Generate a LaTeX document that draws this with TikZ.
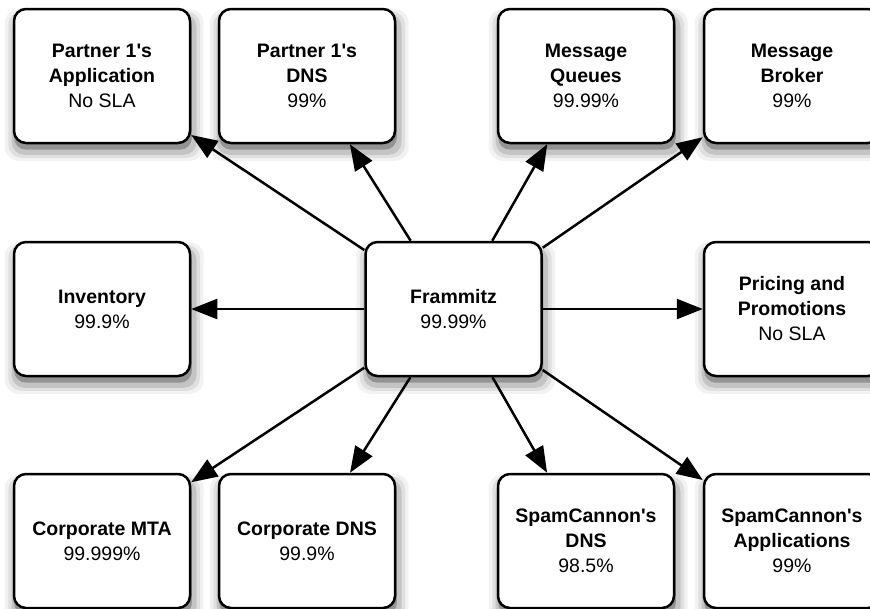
\documentclass[tikz,border=0pt]{standalone}
\usepackage{fontspec}
\setmainfont{Liberation Sans}[Ligatures=TeXOff]
\usetikzlibrary{arrows.meta,shadows}
\begin{document}
\begin{tikzpicture}[x=1pt,y=-1pt,
  softshadow/.style={
    general shadow={fill=black, opacity=0.05, shadow xshift=2pt, shadow yshift=-8pt, shadow scale=1.13},
    general shadow={fill=black, opacity=0.08, shadow xshift=2pt, shadow yshift=-8pt, shadow scale=1.09},
    general shadow={fill=black, opacity=0.12, shadow xshift=2pt, shadow yshift=-8pt, shadow scale=1.05},
    general shadow={fill=black, opacity=0.25, shadow xshift=1pt, shadow yshift=-6pt, shadow scale=1.01}},
  box/.style={softshadow, draw=black, line width=2.5pt, fill=white, rounded corners=12pt,
    minimum width=176pt, minimum height=134pt, inner sep=0pt, align=center,
    font=\fontsize{19.5}{25}\selectfont},
  link/.style={line width=2.5pt, -{Triangle[length=26pt,width=20pt]}}]
\useasboundingbox (0,0) rectangle (870,608);
\clip (0,0) rectangle (870,608);
\node[box] (fr) at (453.5,309) {\textbf{Frammitz}\\99.99\%};
\node[box] (pa) at (102,76) {\textbf{Partner 1's}\\\textbf{Application}\\No SLA};
\node[box] (pd) at (307,76) {\textbf{Partner 1's}\\\textbf{DNS}\\99\%};
\node[box] (mq) at (586,76) {\textbf{Message}\\\textbf{Queues}\\99.99\%};
\node[box] (mb) at (792,76) {\textbf{Message}\\\textbf{Broker}\\99\%};
\node[box] (inv) at (102,309) {\textbf{Inventory}\\99.9\%};
\node[box] (pp) at (792,309) {\textbf{Pricing and}\\\textbf{Promotions}\\No SLA};
\node[box] (cm) at (102,541) {\textbf{Corporate MTA}\\99.999\%};
\node[box] (cd) at (307,541) {\textbf{Corporate DNS}\\99.9\%};
\node[box] (sd) at (586,541) {\textbf{SpamCannon's}\\\textbf{DNS}\\98.5\%};
\node[box] (sa) at (792,541) {\textbf{SpamCannon's}\\\textbf{Applications}\\99\%};
\foreach \t in {pa,pd,mq,mb,inv,pp,cm,cd,sd,sa}
  \draw[link] (fr) -- (\t);
\end{tikzpicture}
\end{document}
